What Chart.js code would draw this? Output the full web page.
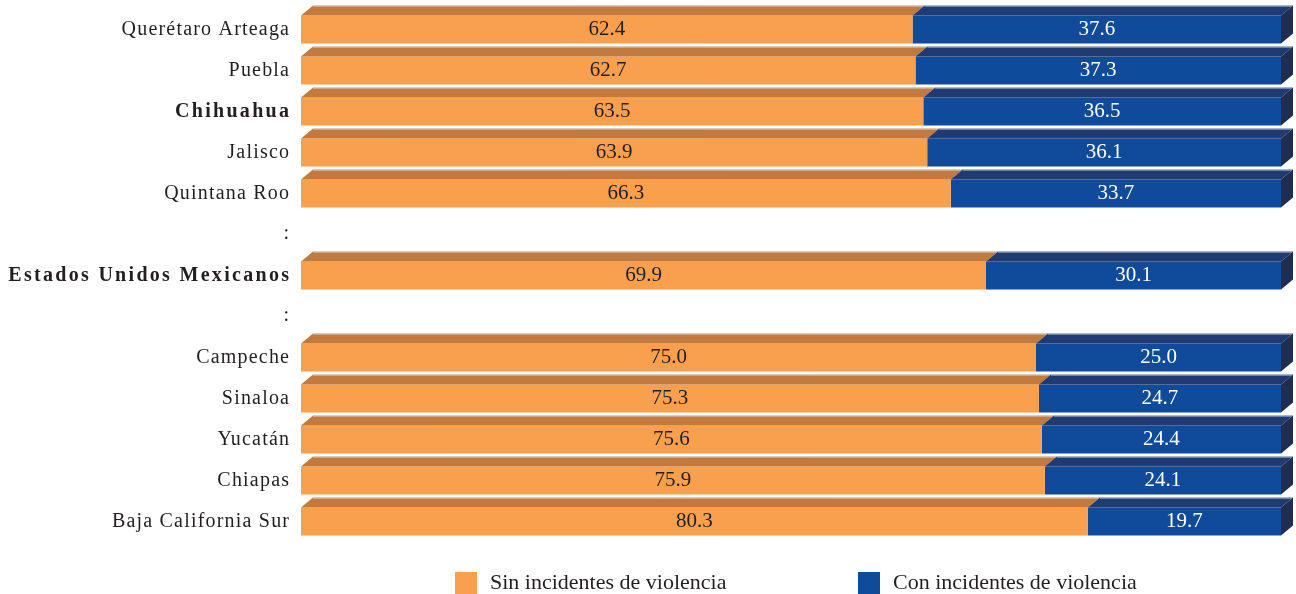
<!DOCTYPE html>
<html>
<head>
<meta charset="utf-8">
<script src="https://cdn.jsdelivr.net/npm/chart.js@4/dist/chart.umd.min.js"></script>
<style>
  body { margin: 0; background: #fff; }
  #wrap { width: 1296px; height: 594px; }
</style>
</head>
<body>
<div id="wrap"><canvas id="chart" width="1296" height="594"></canvas></div>
<script>
const categories = [
  "Querétaro Arteaga", "Puebla", "Chihuahua", "Jalisco", "Quintana Roo", ":",
  "Estados Unidos Mexicanos", ":", "Campeche", "Sinaloa", "Yucatán", "Chiapas",
  "Baja California Sur",
];
const sinViolencia = [62.4, 62.7, 63.5, 63.9, 66.3, null, 69.9, null, 75.0, 75.3, 75.6, 75.9, 80.3];
const conViolencia = [37.6, 37.3, 36.5, 36.1, 33.7, null, 30.1, null, 25.0, 24.7, 24.4, 24.1, 19.7];
const boldLabels = ["Chihuahua", "Estados Unidos Mexicanos"];
const seriesNames = ["Sin incidentes de violencia", "Con incidentes de violencia"];

const FONT = "'Liberation Serif', 'Times New Roman', serif";
const faces = [
  { front: "#f9a04f", top: "#c27a3f", text: "#231f20" },
  { front: "#0f4a9b", top: "#1f3b72", text: "#ffffff" },
];
const sideColor = "#1f2d52";
const DX = 12;
const DY = 10;

const bars3d = {
  id: "bars3d",
  afterDatasetsDraw(chart) {
    const ctx = chart.ctx;
    const metas = chart.data.datasets.map((_, i) => chart.getDatasetMeta(i));
    ctx.save();
    metas.forEach((meta, di) => {
      meta.data.forEach((el, i) => {
        const value = chart.data.datasets[di].data[i];
        if (value == null) return;
        const left = Math.min(el.base, el.x);
        const right = Math.max(el.base, el.x);
        const top = el.y - el.height / 2;
        const bottom = el.y + el.height / 2;

        ctx.fillStyle = faces[di].top;
        ctx.beginPath();
        ctx.moveTo(left, top);
        ctx.lineTo(left + DX, top - DY);
        ctx.lineTo(right + DX, top - DY);
        ctx.lineTo(right, top);
        ctx.closePath();
        ctx.fill();

        ctx.strokeStyle = "rgba(220,226,238,0.8)";
        ctx.lineWidth = 1;
        ctx.beginPath();
        ctx.moveTo(left + DX, top - DY + 0.5);
        ctx.lineTo(right + DX, top - DY + 0.5);
        ctx.stroke();

        if (di === metas.length - 1) {
          ctx.fillStyle = sideColor;
          ctx.beginPath();
          ctx.moveTo(right, top);
          ctx.lineTo(right + DX, top - DY);
          ctx.lineTo(right + DX, bottom - DY);
          ctx.lineTo(right, bottom);
          ctx.closePath();
          ctx.fill();
        }

        ctx.fillStyle = faces[di].text;
        ctx.font = `21px ${FONT}`;
        ctx.textAlign = "center";
        ctx.textBaseline = "middle";
        ctx.fillText(value.toFixed(1), (left + right) / 2, el.y);
      });
    });
    ctx.restore();
  },
  afterDraw(chart) {
    const ctx = chart.ctx;
    const y = chart.scales.y;
    const right = chart.chartArea.left - 12;
    ctx.save();
    ctx.fillStyle = "#231f20";
    ctx.textAlign = "right";
    ctx.textBaseline = "middle";
    categories.forEach((label, i) => {
      const bold = boldLabels.includes(label);
      const spacing = bold ? 2.3 : 1.2;
      ctx.font = `${bold ? "bold " : ""}20px ${FONT}`;
      ctx.letterSpacing = `${spacing}px`;
      const cy = y.getPixelForValue(i) + (label === ":" ? -1 : 0.5);
      ctx.fillText(label, right + spacing, cy);
    });
    ctx.letterSpacing = "0px";

    // legend
    const legendX = [455, 858];
    ctx.font = `22px ${FONT}`;
    ctx.textAlign = "left";
    seriesNames.forEach((name, i) => {
      ctx.fillStyle = faces[i].front;
      ctx.fillRect(legendX[i], 572, 22, 22);
      ctx.fillStyle = "#231f20";
      ctx.fillText(name, legendX[i] + 35, 583);
    });
    ctx.restore();
  },
};

new Chart(document.getElementById("chart"), {
  type: "bar",
  data: {
    labels: categories,
    datasets: [
      { label: seriesNames[0], data: sinViolencia, backgroundColor: faces[0].front },
      { label: seriesNames[1], data: conViolencia, backgroundColor: faces[1].front },
    ],
  },
  options: {
    indexAxis: "y",
    responsive: false,
    animation: false,
    layout: { padding: { left: 301, right: 15, top: 9, bottom: 52 } },
    datasets: { bar: { barPercentage: 0.68, categoryPercentage: 1, borderWidth: 0 } },
    plugins: { legend: { display: false }, tooltip: { enabled: false } },
    scales: {
      x: { stacked: true, min: 0, max: 100, display: false },
      y: { stacked: true, display: false },
    },
  },
  plugins: [bars3d],
});
</script>
</body>
</html>
